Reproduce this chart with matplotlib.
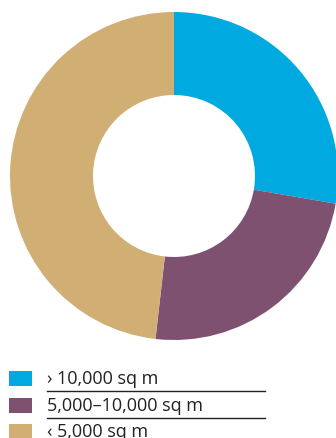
import matplotlib.pyplot as plt
from matplotlib.patches import Rectangle

# Data
labels = ["› 10,000 sq m", "5,000–10,000 sq m", "‹ 5,000 sq m"]
shares = [27.7, 24.1, 48.2]
colors = ["#00A9E0", "#7E5170", "#D0AE74"]

W, H = 336, 439
fig = plt.figure(figsize=(W / 100, H / 100), dpi=100)
ax = fig.add_axes([0, 0, 1, 1])

# Donut, drawn in pixel units (y measured up from the bottom)
cx, cy, r = 174, H - 177, 164
ax.pie(shares, colors=colors, startangle=90, counterclock=False,
       center=(cx, cy), radius=r, frame=True,
       wedgeprops=dict(width=r - 81, linewidth=0))

ax.set_xlim(0, W)
ax.set_ylim(0, H)
ax.set_aspect("equal")
ax.axis("off")

# Legend
row_y = [379, 406, 432]
for i, (lab, col) in enumerate(zip(labels, colors)):
    y = H - row_y[i]
    ax.add_patch(Rectangle((9, y - 7.5), 23, 15, facecolor=col, edgecolor="none"))
    ax.text(47, y, lab, fontsize=13, family="Open Sans", color="#222222",
            va="center", ha="left")
    if i < len(labels) - 1:
        ax.plot([47, 265], [y - 13, y - 13], color="#222222", lw=1)

fig.savefig("out.png", dpi=100)
